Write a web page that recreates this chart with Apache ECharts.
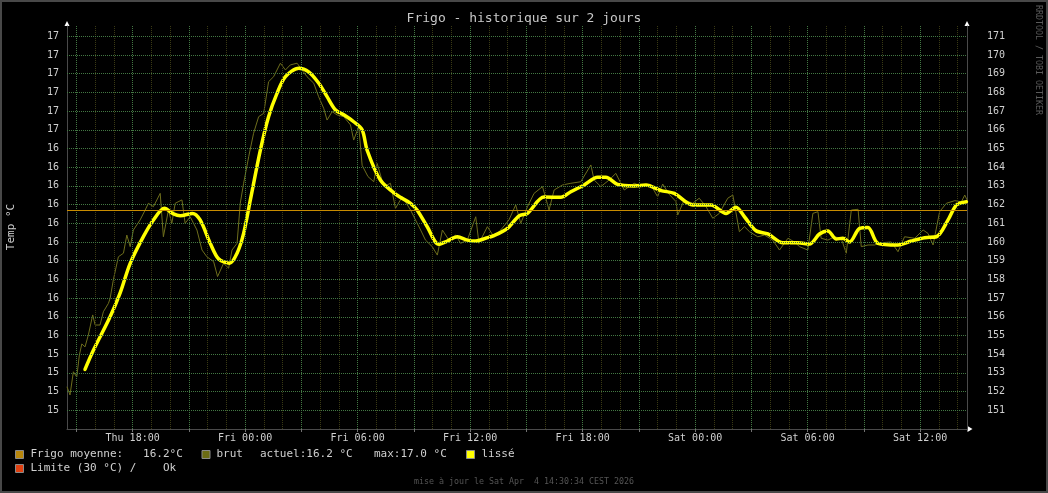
<!DOCTYPE html>
<html><head><meta charset="utf-8">
<script src="https://cdn.jsdelivr.net/npm/echarts@6/dist/echarts.min.js"></script>
<style>html,body{margin:0;padding:0;background:#000}#c{width:1048px;height:493px}</style>
</head><body><div id="c"></div>
<script>
// Hours since Thu 2 Apr 2026 00:00
const rawHours = [14.5,14.66,14.84,15.02,15.16,15.29,15.46,15.64,15.87,16.0,
16.26,16.44,16.71,16.8,16.97,17.24,17.51,17.69,17.87,18.04,
18.4,18.67,18.84,19.11,19.47,19.64,19.91,20.09,20.27,20.63,
20.8,21.07,21.43,21.7,21.96,22.32,22.53,22.85,23.12,23.3,
23.57,23.74,23.92,24.19,24.45,24.72,24.99,25.25,25.52,25.88,
26.15,26.41,26.77,27.3,27.66,27.92,28.19,28.37,28.64,28.91,
29.26,29.62,29.79,30.06,30.24,30.55,30.86,31.04,31.4,31.75,
32.02,32.38,32.82,33.0,33.36,33.62,33.98,34.25,34.52,34.87,
35.23,35.49,35.85,36.3,36.47,36.92,37.27,37.63,38.07,38.43,
38.7,39.06,39.41,39.86,40.21,40.48,40.93,41.37,41.9,42.44,
42.61,42.97,43.42,43.77,44.22,44.75,45.2,45.64,46.0,46.27,
46.62,46.98,47.07,47.42,47.87,48.22,48.58,48.94,49.29,49.74,
50.01,50.36,50.63,50.9,51.34,51.7,52.14,52.5,52.95,53.3,
53.57,54.01,54.28,54.55,54.72,55.08,55.43,55.79,56.06,56.33,
56.69,56.86,57.22,57.57,57.93,58.46,58.82,59.17,59.71,60.16,
60.42,60.69,61.04,61.4,61.85,62.2,62.38,62.5];
const rawTemps = [15.226,15.182,15.306,15.278,15.396,15.455,15.439,15.503,15.61,15.556,
15.556,15.627,15.672,15.699,15.797,15.921,15.94,16.037,15.975,16.064,
16.118,16.171,16.207,16.189,16.26,16.028,16.171,16.1,16.207,16.225,
16.1,16.135,16.064,15.957,15.921,15.895,15.815,15.886,15.86,15.957,
15.993,16.207,16.314,16.456,16.581,16.67,16.688,16.857,16.884,16.956,
16.92,16.947,16.956,16.884,16.849,16.777,16.715,16.652,16.697,16.679,
16.67,16.626,16.545,16.617,16.41,16.35,16.322,16.42,16.296,16.314,
16.18,16.242,16.171,16.135,16.064,16.01,15.975,15.93,16.064,16.01,
16.037,15.993,16.01,16.135,15.993,16.082,16.028,16.064,16.118,16.198,
16.1,16.189,16.26,16.296,16.171,16.278,16.305,16.314,16.322,16.412,
16.332,16.296,16.332,16.367,16.278,16.314,16.296,16.305,16.242,16.31,
16.255,16.216,16.144,16.225,16.207,16.234,16.189,16.127,16.153,16.234,
16.251,16.055,16.082,16.055,16.028,16.037,16.01,15.957,16.02,16.0,
15.975,15.957,16.153,16.162,16.02,16.01,16.028,16.02,15.94,16.171,
16.175,15.975,15.984,15.984,15.996,16.0,15.948,16.028,16.02,16.064,
16.046,15.984,16.162,16.207,16.221,16.215,16.251,16.225];
const smoothHours = [15.46,15.9,16.8,17.33,17.87,18.58,19.11,19.7,20.18,20.54,
21.19,21.6,22.14,22.58,23.17,23.57,23.92,24.28,24.81,25.25,
25.7,26.15,26.86,27.39,27.92,28.37,28.82,29.26,29.79,30.24,
30.51,31.22,32.11,32.82,33.18,33.72,34.33,34.78,35.32,35.85,
36.3,36.83,37.27,37.99,38.61,39.06,39.94,40.84,41.37,42.08,
42.8,43.24,43.86,44.75,45.38,46.18,46.89,47.87,48.85,49.65,
50.18,50.63,51.25,51.88,52.68,53.48,54.1,54.63,55.08,55.53,
55.88,56.24,56.77,57.22,57.75,58.82,59.53,60.24,60.87,61.49,
61.94,62.47];
const smoothTemps = [15.319,15.42,15.6,15.726,15.886,16.03,16.118,16.18,16.15,16.14,
16.153,16.118,15.993,15.91,15.886,15.94,16.046,16.225,16.49,16.67,
16.795,16.884,16.929,16.91,16.85,16.777,16.706,16.68,16.643,16.6,
16.49,16.33,16.25,16.207,16.17,16.08,15.988,16.005,16.028,16.01,
16.005,16.02,16.034,16.073,16.14,16.153,16.24,16.239,16.269,16.305,
16.346,16.346,16.308,16.3,16.305,16.275,16.26,16.198,16.198,16.153,
16.186,16.135,16.06,16.043,15.996,15.996,15.989,16.043,16.059,16.016,
16.02,16.0,16.073,16.078,15.993,15.984,16.005,16.023,16.028,16.118,
16.198,16.215];
const meanTemp = 16.17;

const xLabelHours = [18,24,30,36,42,48,54,60];
const xLabels = ['Thu 18:00','Fri 00:00','Fri 06:00','Fri 12:00','Fri 18:00','Sat 00:00','Sat 06:00','Sat 12:00'];
const xMajorHours = [15,18,21,24,27,30,33,36,39,42,45,48,51,54,57,60];
// left labels for 15.0, 15.1, ... 17.1
const leftTickLabels = ['15','15','15','15','15','16','16','16','16','16','16','16','16','16','16','16','17','17','17','17','17','17'];
const rightTickLabels = ['150','151','152','153','154','155','156','157','158','159','160','161','162','163','164','165','166','167','168','169','170','171'];

const X_MIN = 14.5, X_MAX = 62.5, Y_MIN = 15.0, Y_MAX = 17.155;
const G = {left: 67, right: 81, top: 26, bottom: 64};
const W = 1048, H = 493;
const FONT = '"DejaVu Sans Mono", monospace';
const TXT = '#d0d0d0';
const MAJOR = '#437843', MINOR = '#3a3a14';

const zip = (a, b) => a.map((v, i) => [v, b[i]]);

// grid lines
const gridLines = [];
for (let h = Math.ceil(X_MIN); h <= Math.floor(X_MAX); h++) {
  const major = xMajorHours.indexOf(h) >= 0;
  gridLines.push({xAxis: h, lineStyle: {color: major ? MAJOR : MINOR, type: [1, 1], width: 1}});
}
leftTickLabels.forEach((l, i) => {
  if (i === 0) return;
  gridLines.push({yAxis: +(Y_MIN + i * 0.1).toFixed(1), lineStyle: {color: MAJOR, type: [1, 1], width: 1}});
});

const legendItems = [
  {color: '#b8860b', bx: 15, by: 450, texts: [['Frigo moyenne:   16.2°C', 30.5]]},
  {color: '#6b6b14', bx: 201.5, by: 450, texts: [['brut', 216.5], ['actuel:16.2 °C', 260], ['max:17.0 °C', 374]]},
  {color: '#ffff00', bx: 466, by: 450, texts: [['lissé', 481.5]]},
  {color: '#e04010', bx: 15, by: 464, texts: [['Limite (30 °C) /    Ok', 30.5]]}
];

const graphics = [];
graphics.push({type: 'rect', shape: {x: 1, y: 1, width: W - 2, height: H - 2}, style: {fill: 'none', stroke: '#484848', lineWidth: 2}, silent: true});
graphics.push({type: 'text', x: 524, y: 19, style: {text: 'Frigo - historique sur 2 jours', fill: '#c8c8c8', font: '13px ' + FONT, align: 'center', verticalAlign: 'middle'}});
graphics.push({type: 'text', x: 11, y: 227, rotation: Math.PI / 2, style: {text: 'Temp °C', fill: TXT, font: '11px ' + FONT, align: 'center', verticalAlign: 'middle'}});
graphics.push({type: 'text', x: 1038.5, y: 60, rotation: -Math.PI / 2, style: {text: 'RRDTOOL / TOBI OETIKER', fill: '#5a5a5a', font: '8.3px ' + FONT, align: 'center', verticalAlign: 'middle'}});
graphics.push({type: 'text', x: 524, y: 482, style: {text: 'mise à jour le Sat Apr  4 14:30:34 CEST 2026', fill: '#555555', font: '8.3px ' + FONT, align: 'center', verticalAlign: 'middle'}});
// axis arrows
const xl = G.left, xr = W - G.right, yb = H - G.bottom, yt = G.top;
graphics.push({type: 'polygon', shape: {points: [[xl - 2.5, yt], [xl + 2.5, yt], [xl, yt - 5]]}, style: {fill: '#ffffff'}});
graphics.push({type: 'polygon', shape: {points: [[xr - 2.5, yt], [xr + 2.5, yt], [xr, yt - 5]]}, style: {fill: '#ffffff'}});
graphics.push({type: 'polygon', shape: {points: [[xr + 0.5, yb - 3], [xr + 0.5, yb + 3], [xr + 5.5, yb]]}, style: {fill: '#ffffff'}});
legendItems.forEach(it => {
  graphics.push({type: 'rect', shape: {x: it.bx + 0.5, y: it.by + 0.5, width: 8, height: 8}, style: {fill: it.color, stroke: '#8a8a8a', lineWidth: 1}});
  it.texts.forEach(t => {
    graphics.push({type: 'text', x: t[1], y: it.by + 4.5, style: {text: t[0], fill: TXT, font: '11px ' + FONT, align: 'left', verticalAlign: 'middle'}});
  });
});

const chart = echarts.init(document.getElementById('c'), null, {renderer: 'canvas', width: W, height: H});
chart.setOption({
  backgroundColor: '#000000',
  animation: false,
  grid: {left: G.left, right: G.right, top: G.top, bottom: G.bottom, containLabel: false},
  xAxis: {
    type: 'value', min: X_MIN, max: X_MAX,
    axisLine: {show: true, onZero: false, lineStyle: {color: '#4a4a4a', width: 1}},
    axisTick: {show: true, customValues: xMajorHours, length: 3, lineStyle: {color: '#707070'}},
    axisLabel: {customValues: xLabelHours, formatter: v => xLabels[xLabelHours.indexOf(v)] || '', color: TXT, fontFamily: FONT, fontSize: 10, margin: 4},
    splitLine: {show: false}
  },
  yAxis: [{
    type: 'value', min: Y_MIN, max: Y_MAX, interval: 0.1, position: 'left',
    axisLine: {show: true, onZero: false, lineStyle: {color: '#4a4a4a'}},
    axisTick: {show: false},
    axisLabel: {color: TXT, fontFamily: FONT, fontSize: 10, margin: 8, showMinLabel: false,
      formatter: v => { const i = Math.round((v - Y_MIN) * 10); if (Math.abs((v - Y_MIN) * 10 - i) > 1e-6 || i <= 0) return ''; return leftTickLabels[i] || ''; }},
    splitLine: {show: false}
  }, {
    type: 'value', min: 150, max: 150 + (Y_MAX - Y_MIN) * 10, interval: 1, position: 'right',
    axisLine: {show: true, onZero: false, lineStyle: {color: '#4a4a4a'}},
    axisTick: {show: false},
    axisLabel: {color: TXT, fontFamily: FONT, fontSize: 10, margin: 20, showMinLabel: false,
      formatter: v => { const i = Math.round(v - 150); if (Math.abs(v - 150 - i) > 1e-6 || i <= 0) return ''; return rightTickLabels[i] || ''; }},
    splitLine: {show: false}
  }],
  series: [{
    name: 'grid', type: 'line', data: [], z: 1, silent: true,
    markLine: {silent: true, symbol: ['none', 'none'], label: {show: false}, animation: false, data: gridLines}
  }, {
    name: 'brut', type: 'line', data: zip(rawHours, rawTemps), z: 2, showSymbol: false, symbol: 'none',
    lineStyle: {color: '#6e6e1c', width: 1}, silent: true
  }, {
    name: 'moyenne', type: 'line', data: [], z: 3, silent: true,
    markLine: {silent: true, symbol: ['none', 'none'], label: {show: false}, animation: false,
      data: [{yAxis: meanTemp, lineStyle: {color: '#c88c00', type: 'solid', width: 1}}]}
  }, {
    name: 'lissé', type: 'line', data: zip(smoothHours, smoothTemps), z: 4, showSymbol: false, symbol: 'none',
    smooth: 0.3, lineStyle: {color: '#ffff00', width: 3.5, cap: 'round', join: 'round'}, silent: true
  }],
  graphic: graphics
});
</script></body></html>
